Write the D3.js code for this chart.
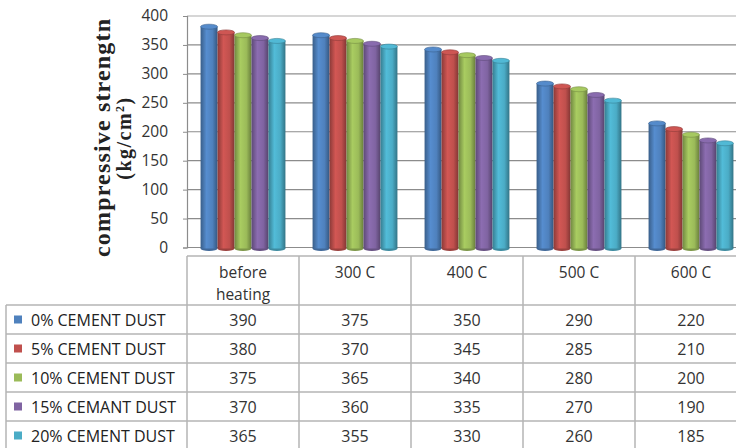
<!DOCTYPE html>
<html>
<head>
<meta charset="utf-8">
<script src="https://cdn.jsdelivr.net/npm/d3@7"></script>
<style>
  body { margin: 0; background: #fff; }
  svg { display: block; }
</style>
</head>
<body>
<svg id="chart" width="736" height="448"></svg>
<script>
// data
const categories = ['before heating', '300 C', '400 C', '500 C', '600 C'];
const seriesNames = ['0% CEMENT DUST', '5% CEMENT DUST', '10% CEMENT DUST', '15% CEMANT DUST', '20% CEMENT DUST'];
const dust0 = [390, 375, 350, 290, 220];
const dust5 = [380, 370, 345, 285, 210];
const dust10 = [375, 365, 340, 280, 200];
const dust15 = [370, 360, 335, 270, 190];
const dust20 = [365, 355, 330, 260, 185];
const yTicks = [0, 50, 100, 150, 200, 250, 300, 350, 400];
const colours = ['#4F81BD', '#C0504D', '#9BBB59', '#8064A2', '#4BACC6'];

const seriesValues = [dust0, dust5, dust10, dust15, dust20];

const svg = d3.select('#chart');
const margin = { left: 187, top: 16, bottom: 247.5, right: 747 };

const x = d3.scaleBand().domain(categories).range([margin.left, margin.right]);
const xs = d3.scaleBand().domain(seriesNames).range([0, x.bandwidth()]).paddingOuter(0.8);
// back wall (gridlines) and front of bars (3d depth offset)
const y = d3.scaleLinear().domain([0, 400]).range([margin.bottom, margin.top]);
const yFront = d3.scaleLinear().domain([0, 400]).range([248.5, 21]);

const colour = d3.scaleOrdinal().domain(seriesNames).range(colours);

// cylinder gradients
const defs = svg.append('defs');
seriesNames.forEach((s, i) => {
  const c = d3.color(colours[i]);
  const g = defs.append('linearGradient').attr('id', 'grad' + i)
    .attr('x1', 0).attr('x2', 1).attr('y1', 0).attr('y2', 0);
  g.append('stop').attr('offset', '0%').attr('stop-color', c.darker(0.9));
  g.append('stop').attr('offset', '35%').attr('stop-color', c.brighter(0.25));
  g.append('stop').attr('offset', '70%').attr('stop-color', c);
  g.append('stop').attr('offset', '100%').attr('stop-color', c.darker(1.1));
});

// gridlines
svg.append('g').selectAll('line.grid').data(yTicks).enter()
  .append('line').attr('class', 'grid')
  .attr('x1', margin.left).attr('x2', margin.right)
  .attr('y1', d => y(d)).attr('y2', d => y(d))
  .attr('stroke', d => d === 400 ? '#c8c8c8' : '#8c8c8c')
  .attr('stroke-width', d => d === 400 ? 1.5 : 1.2);

// y axis
const yAxis = d3.axisLeft(y).tickValues(yTicks).tickSize(4).tickPadding(15);
const yG = svg.append('g').attr('transform', `translate(${margin.left},0)`).call(yAxis);
yG.select('.domain').attr('stroke', '#8c8c8c').attr('stroke-width', 1.2);
yG.selectAll('.tick line').attr('stroke', '#8c8c8c');
yG.selectAll('.tick text')
  .style('font-family', '"Open Sans", sans-serif')
  .style('font-size', '15.5px')
  .attr('fill', '#333');

// axis title
svg.append('text')
  .attr('transform', 'translate(110,138) rotate(-90)')
  .attr('text-anchor', 'middle')
  .attr('textLength', 238)
  .style('font-family', '"Liberation Serif", "DejaVu Serif", serif')
  .style('font-weight', 'bold')
  .style('font-size', '24px')
  .attr('fill', '#222')
  .text('compressive strengtn');
const unit = svg.append('text')
  .attr('transform', 'translate(131,138) rotate(-90)')
  .attr('text-anchor', 'middle')
  .style('font-family', '"Liberation Serif", "DejaVu Serif", serif')
  .style('font-weight', 'bold')
  .style('font-size', '20px')
  .style('letter-spacing', '1.5px')
  .attr('fill', '#222');
unit.append('tspan').text('(kg/cm');
unit.append('tspan').attr('dy', -7).style('font-size', '12px').text('2');
unit.append('tspan').attr('dy', 7).text(')');

// bars
const barData = [];
categories.forEach((c, ci) => {
  seriesNames.forEach((s, si) => {
    barData.push({ category: c, series: s, si: si, value: seriesValues[si][ci] });
  });
});

const bars = svg.append('g').selectAll('g.bar').data(barData).enter()
  .append('g').attr('class', 'bar')
  .attr('transform', d => `translate(${x(d.category) + xs(d.series)},0)`);

const bw = xs.bandwidth();
bars.append('ellipse')
  .attr('cx', bw / 2).attr('cy', yFront(0))
  .attr('rx', bw / 2).attr('ry', 2.5)
  .attr('fill', d => d3.color(colour(d.series)).darker(0.6));
bars.append('rect')
  .attr('x', 0).attr('width', bw)
  .attr('y', d => yFront(d.value))
  .attr('height', d => yFront(0) - yFront(d.value))
  .attr('fill', d => `url(#grad${d.si})`);
bars.append('ellipse')
  .attr('cx', bw / 2).attr('cy', d => yFront(d.value))
  .attr('rx', bw / 2).attr('ry', 2.5)
  .attr('fill', d => d3.color(colour(d.series)).brighter(0.2))
  .attr('stroke', d => d3.color(colour(d.series)).darker(0.8))
  .attr('stroke-width', 0.6);

// data table
const tableTop = 256;
const headerH = 49;
const rowH = 29;
const legendLeft = 6;
const tableFont = '"Open Sans", sans-serif';
const lineCol = '#b4b4b4';

const row = d3.scaleBand().domain(seriesNames)
  .range([tableTop + headerH, tableTop + headerH + rowH * seriesNames.length]);

const table = svg.append('g');

// horizontal lines
table.append('line')
  .attr('x1', margin.left).attr('x2', margin.right)
  .attr('y1', tableTop).attr('y2', tableTop)
  .attr('stroke', lineCol).attr('stroke-width', 1.5);
table.selectAll('line.hrow').data(seriesNames).enter()
  .append('line').attr('class', 'hrow')
  .attr('x1', legendLeft).attr('x2', margin.right)
  .attr('y1', d => row(d)).attr('y2', d => row(d))
  .attr('stroke', lineCol).attr('stroke-width', 1.5);
table.append('line')
  .attr('x1', legendLeft).attr('x2', margin.right)
  .attr('y1', row.range()[1]).attr('y2', row.range()[1])
  .attr('stroke', lineCol).attr('stroke-width', 1.5);

// vertical lines
const colEdges = categories.map(c => x(c)).concat([margin.right]);
table.selectAll('line.vcol').data(colEdges).enter()
  .append('line').attr('class', 'vcol')
  .attr('x1', d => d).attr('x2', d => d)
  .attr('y1', tableTop).attr('y2', row.range()[1])
  .attr('stroke', lineCol).attr('stroke-width', 1.5);
table.append('line')
  .attr('x1', legendLeft).attr('x2', legendLeft)
  .attr('y1', row.range()[0]).attr('y2', row.range()[1])
  .attr('stroke', lineCol).attr('stroke-width', 1.5);

// header labels
const header = table.selectAll('text.head').data(categories).enter()
  .append('text').attr('class', 'head')
  .attr('x', d => x(d) + x.bandwidth() / 2)
  .attr('y', tableTop + 22)
  .attr('text-anchor', 'middle')
  .style('font-family', tableFont).style('font-size', '15.5px')
  .attr('fill', '#333');
header.each(function (d) {
  const words = d === 'before heating' ? ['before', 'heating'] : [d];
  d3.select(this).selectAll('tspan').data(words).enter()
    .append('tspan')
    .attr('x', x(d) + x.bandwidth() / 2)
    .attr('dy', (w, i) => i === 0 ? 0 : 22)
    .text(w => w);
});

// legend keys + names
table.selectAll('rect.key').data(seriesNames).enter()
  .append('rect').attr('class', 'key')
  .attr('x', 14).attr('y', d => row(d) + row.bandwidth() / 2 - 4)
  .attr('width', 8).attr('height', 8)
  .attr('fill', d => colour(d));
table.selectAll('text.name').data(seriesNames).enter()
  .append('text').attr('class', 'name')
  .attr('x', 31).attr('y', d => row(d) + row.bandwidth() / 2 + 6)
  .style('font-family', tableFont).style('font-size', '16px')
  .attr('fill', '#222')
  .text(d => d);

// cell values
const cells = [];
seriesNames.forEach((s, si) => {
  categories.forEach((c, ci) => cells.push({ series: s, category: c, value: seriesValues[si][ci] }));
});
table.selectAll('text.cell').data(cells).enter()
  .append('text').attr('class', 'cell')
  .attr('x', d => x(d.category) + x.bandwidth() / 2)
  .attr('y', d => row(d.series) + row.bandwidth() / 2 + 6)
  .attr('text-anchor', 'middle')
  .style('font-family', tableFont).style('font-size', '16px')
  .attr('fill', '#333')
  .text(d => d.value);
</script>
</body>
</html>
